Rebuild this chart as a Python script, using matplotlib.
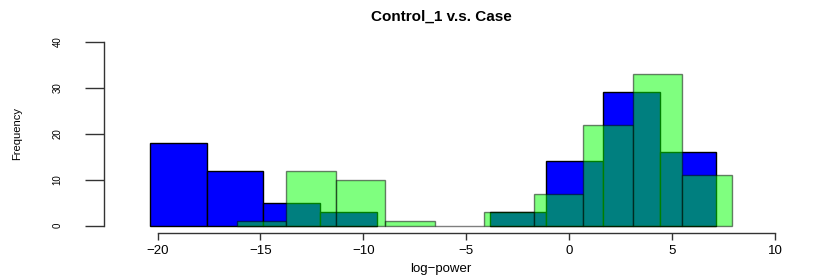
import numpy as np
import matplotlib
matplotlib.use("Agg")
import matplotlib.pyplot as plt

plt.rcParams['font.family'] = ['Liberation Sans', 'DejaVu Sans']

# histogram breaks and counts
blue_breaks = [-20.35, -17.60, -14.85, -12.10, -9.35, -6.60, -3.85, -1.10, 1.65, 4.40, 7.15]
blue_counts = [18, 12, 5, 3, 0, 0, 3, 14, 29, 16]
green_breaks = [-16.14, -13.74, -11.33, -8.93, -6.52, -4.12, -1.71, 0.69, 3.10, 5.50, 7.91]
green_counts = [1, 12, 10, 1, 0, 3, 7, 22, 33, 11]

x_ticks = [-20, -15, -10, -5, 0, 5, 10]
y_ticks = [0, 10, 20, 30, 40]

fig = plt.figure(figsize=(8.3, 2.77), dpi=100)
ax = fig.add_axes([104/830, 1 - 233/277, (778 - 104)/830, (233 - 34.6)/277])

bb = np.array(blue_breaks)
bc = np.array(blue_counts)
keep = bc > 0
ax.bar(bb[:-1][keep], bc[keep], width=np.diff(bb)[keep], align='edge',
       color='#0000ff', edgecolor='black', linewidth=1)

gb = np.array(green_breaks)
ax.bar(gb[:-1], green_counts, width=np.diff(gb), align='edge',
       color=(0, 1, 0, 0.5), edgecolor=(0, 0, 0, 0.5), linewidth=1)

ax.set_xlim(-22.6, 10.15)
ax.set_ylim(-1.6, 41.6)

for s in ['top', 'right']:
    ax.spines[s].set_visible(False)
ax.spines['left'].set_bounds(0, 40)
ax.spines['bottom'].set_bounds(-20, 10)
for s in ['left', 'bottom']:
    ax.spines[s].set_color('#333333')
    ax.spines[s].set_linewidth(1)

ax.set_xticks(x_ticks)
ax.set_xticklabels([str(v).replace('-', '\u2212') for v in x_ticks], fontsize=9.5)
ax.set_yticks(y_ticks)
ax.set_yticklabels([str(v) for v in y_ticks], fontsize=7, rotation=90, va='center')
ax.tick_params(axis='y', length=14, width=1, color='#333333', pad=16)
ax.tick_params(axis='x', length=5, width=1, color='#333333', pad=4)

ax.set_xlabel('log\u2212power', fontsize=9.5, labelpad=4)
ax.set_ylabel('Frequency', fontsize=8)
ax.yaxis.set_label_coords(-0.121, 0.5)
ax.set_title('Control_1 v.s. Case', fontsize=11, fontweight='bold', pad=10)

fig.savefig('out.png', dpi=100)
